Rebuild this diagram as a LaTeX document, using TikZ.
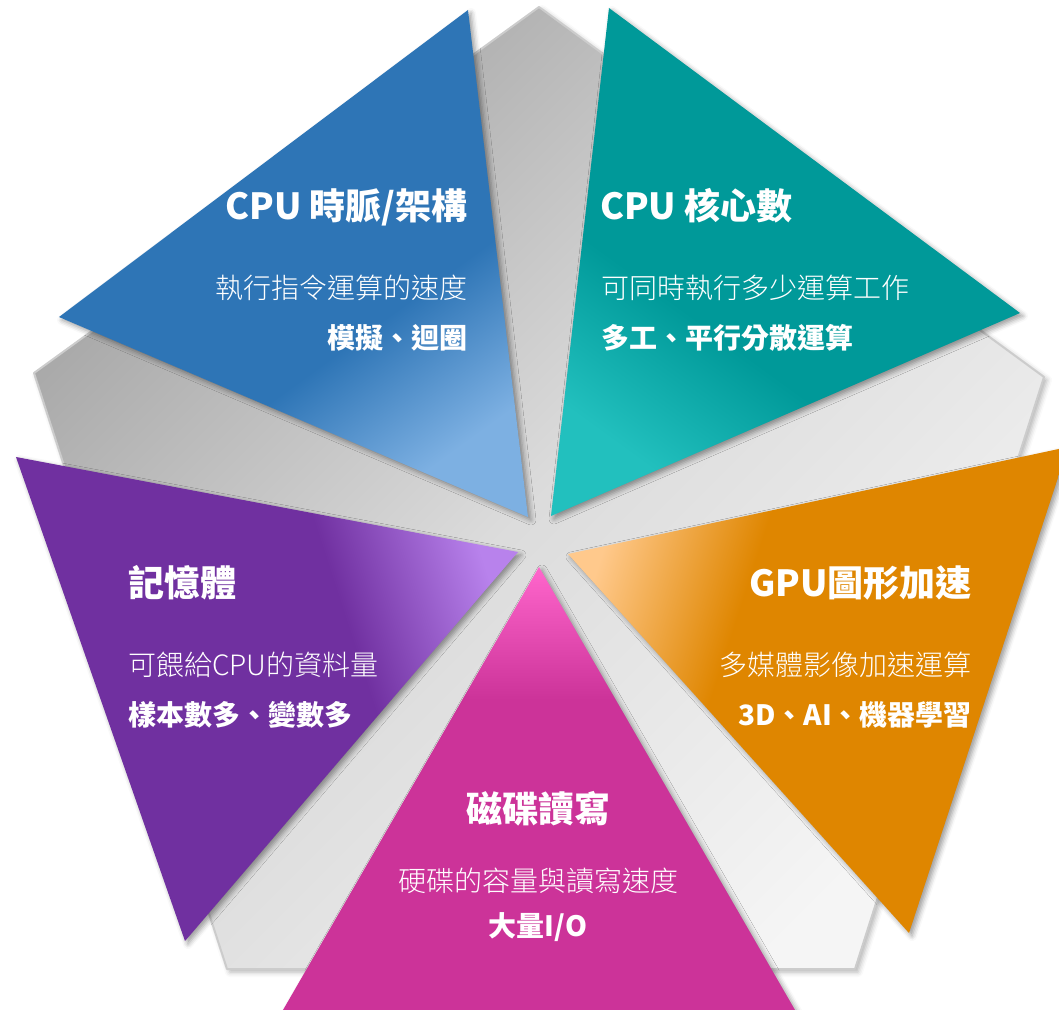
\documentclass[tikz,border=0pt]{standalone}
\usepackage{fontspec}
\setmainfont{Noto Sans CJK TC}
\newfontfamily\lightcjk{Noto Sans CJK TC Light}
\usepackage{xcolor}
\usetikzlibrary{shadows.blur}

\definecolor{bluebase}{HTML}{2E75B6}
\definecolor{bluetip}{HTML}{7DB0E2}
\definecolor{tealbase}{HTML}{009999}
\definecolor{tealtip}{HTML}{22C0BE}
\definecolor{orangebase}{HTML}{DF8600}
\definecolor{orangetip}{HTML}{FFC98C}
\definecolor{pinkbase}{HTML}{CC3399}
\definecolor{pinktip}{HTML}{FF66CC}
\definecolor{purplebase}{HTML}{7030A0}
\definecolor{purpletip}{HTML}{B882EC}
\definecolor{pentedge}{HTML}{CCCCCC}

\colorlet{tipc}{white}
\colorlet{basec}{black}
\pgfdeclareverticalshading[tipc,basec]{tipfade}{100bp}{%
  color(0bp)=(basec); color(60bp)=(basec); color(75bp)=(tipc); color(100bp)=(tipc)}

\tikzset{
  pentbg/.style={
    top color=black!36, bottom color=black!4, middle color=black!14,
    shading angle=45, draw=pentedge, line width=2pt, line join=round,
    blur shadow={shadow xshift=3pt, shadow yshift=-3pt,
      shadow blur radius=5pt, shadow opacity=30}
  },
  tri/.style n args={3}{
    /utils/exec={\colorlet{tipc}{#1}\colorlet{basec}{#2}},
    shading=tipfade, shading angle=#3,
    blur shadow={shadow xshift=3pt, shadow yshift=-3pt,
      shadow blur radius=5pt, shadow opacity=40}
  },
  ttl/.style={font=\fontsize{36}{40}\selectfont\bfseries, text=white, inner sep=0pt},
  sub/.style={font=\fontsize{28}{32}\selectfont\lightcjk, text=white, inner sep=0pt},
  key/.style={font=\fontsize{28}{32}\selectfont\bfseries, text=white, inner sep=0pt},
}

\begin{document}
\begin{tikzpicture}[x=1pt, y=-1pt]
  \useasboundingbox (0,0) rectangle (1059,1009);

  % gray pentagon behind
  \shade[pentbg] (539,7) -- (1044,377) -- (855,969) -- (227,969) -- (34,373) -- cycle;

  % five triangles, tips towards the middle
  \shade[tri={bluetip}{bluebase}{216}] (528,517) -- (468,10) -- (59,317) -- cycle;
  \shade[tri={tealtip}{tealbase}{144}] (551,516) -- (609,8) -- (1020,313) -- cycle;
  \shade[tri={orangetip}{orangebase}{72}] (568,554) -- (1068,447) -- (909,933) -- cycle;
  \shade[tri={pinktip}{pinkbase}{0}] (539,567) -- (795,1010) -- (283,1010) -- cycle;
  \shade[tri={purpletip}{purplebase}{288}] (518,552) -- (185,941) -- (16,457) -- cycle;

  % CPU clock
  \node[ttl, anchor=base east] (clockT) at (468,219) {CPU 時脈/架構};
  \node[sub, anchor=base east] (clockS) at (468,298) {執行指令運算的速度};
  \node[key, anchor=base east] (clockK) at (468,348) {模擬、迴圈};

  % CPU cores
  \node[ttl, anchor=base west] (coreT) at (600,219) {CPU 核心數};
  \node[sub, anchor=base west] (coreS) at (601,298) {可同時執行多少運算工作};
  \node[key, anchor=base west] (coreK) at (601,348) {多工、平行分散運算};

  % memory
  \node[ttl, anchor=base west] (memT) at (128,596) {記憶體};
  \node[sub, anchor=base west] (memS) at (128,675) {可餵給CPU的資料量};
  \node[key, anchor=base west] (memK) at (128,725) {樣本數多、變數多};

  % GPU
  \node[ttl, anchor=base east] (gpuT) at (972,596) {GPU圖形加速};
  \node[sub, anchor=base east] (gpuS) at (972,675) {多媒體影像加速運算};
  \node[key, anchor=base east] (gpuK) at (972,725) {3D、AI、機器學習};

  % disk
  \node[ttl, anchor=base] (diskT) at (538,822) {磁碟讀寫};
  \node[sub, anchor=base] (diskS) at (538,891) {硬碟的容量與讀寫速度};
  \node[key, anchor=base] (diskK) at (538,936) {大量I/O};
\end{tikzpicture}
\end{document}
